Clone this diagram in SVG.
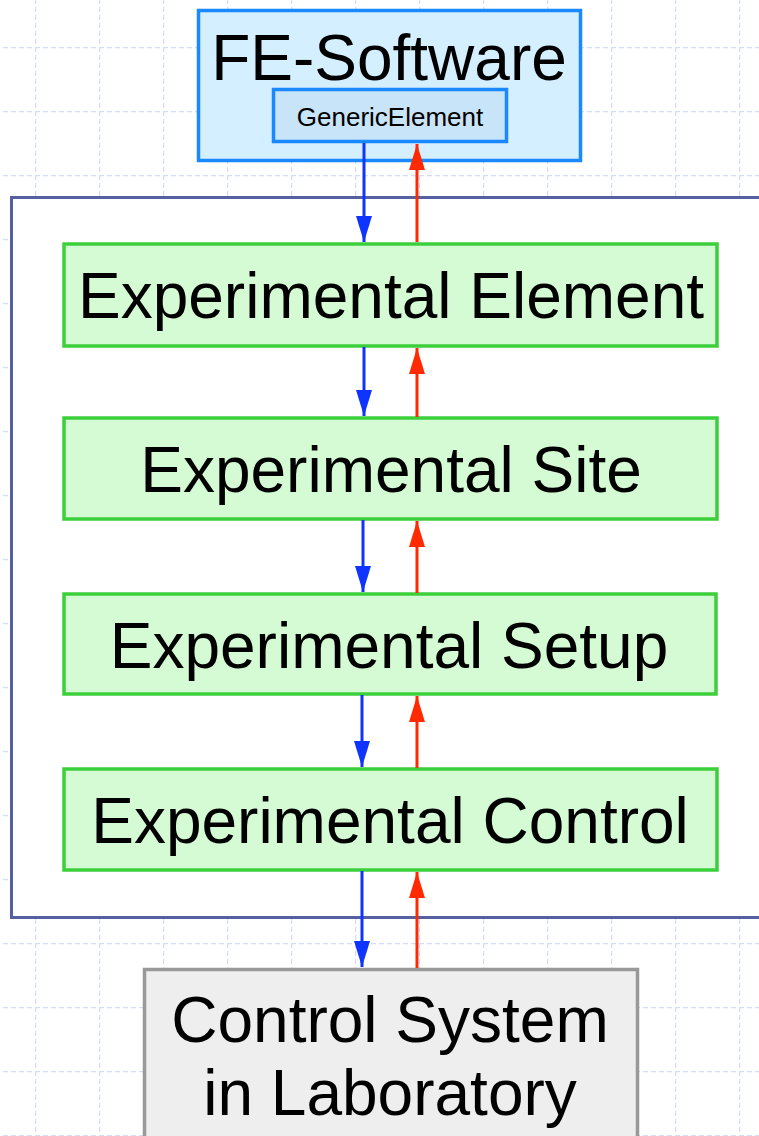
<svg xmlns="http://www.w3.org/2000/svg" width="759" height="1136" viewBox="0 0 759 1136">
<style>
.lbl{font-family:"Liberation Sans",Arial,sans-serif;fill:#000;text-anchor:middle}
.big{font-size:64px}
.green{fill:#d4fbd4;stroke:#3ccf3c;stroke-width:3.5}
.blue{stroke:#1034ff;stroke-width:3;fill:none}
.red{stroke:#ff2a00;stroke-width:3;fill:none}
</style>
<defs>
<pattern id="grid" patternUnits="userSpaceOnUse" x="35" y="47" width="64" height="64">
<path d="M0.5 0V64M0 0.5H64" stroke="#d3dbfb" stroke-width="1.5" stroke-dasharray="5 3" fill="none"/>
</pattern>
<marker id="ab" markerUnits="userSpaceOnUse" markerWidth="28" markerHeight="16" refX="26" refY="8" orient="auto" viewBox="0 0 28 16">
<path d="M0 0L26 8L0 16Z" fill="#1034ff"/>
</marker>
<marker id="ar" markerUnits="userSpaceOnUse" markerWidth="28" markerHeight="16" refX="26" refY="8" orient="auto" viewBox="0 0 28 16">
<path d="M0 0L26 8L0 16Z" fill="#ff2a00"/>
</marker>
</defs>
<rect width="759" height="1136" fill="#fff"/>
<rect width="759" height="1136" fill="url(#grid)"/>
<g id="frame">
<rect x="11.5" y="197.5" width="760" height="720" fill="#fff" stroke="#5560a0" stroke-width="3"/>
</g>
<g id="fe-software">
<rect x="198.5" y="10.5" width="382" height="150" fill="#d4efff" stroke="#1a88ff" stroke-width="3.5"/>
<text class="lbl big" x="389" y="80">FE-Software</text>
</g>
<g id="generic-element">
<rect x="273.5" y="89.5" width="233" height="52" fill="#c8e4f8" stroke="#1a88ff" stroke-width="3.5"/>
<text class="lbl" x="390" y="126" font-size="26">GenericElement</text>
</g>
<g id="exp-element">
<rect class="green" x="64" y="244" width="653" height="102"/>
<text class="lbl big" x="391" y="318">Experimental Element</text>
</g>
<g id="exp-site">
<rect class="green" x="64" y="418" width="653" height="101"/>
<text class="lbl big" x="391" y="492">Experimental Site</text>
</g>
<g id="exp-setup">
<rect class="green" x="64" y="594" width="652" height="100"/>
<text class="lbl big" x="389" y="668">Experimental Setup</text>
</g>
<g id="exp-control">
<rect class="green" x="64" y="769" width="653" height="101"/>
<text class="lbl big" x="390" y="843">Experimental Control</text>
</g>
<g id="control-system">
<rect x="144.5" y="969.5" width="493" height="180" fill="#eeeeee" stroke="#999" stroke-width="3.5"/>
<text class="lbl big" x="390" y="1042">Control System</text>
<text class="lbl big" x="390" y="1115">in Laboratory</text>
</g>
<g id="connectors">
<path class="blue" d="M364 143V242" marker-end="url(#ab)"/>
<path class="red" d="M417 242V144" marker-end="url(#ar)"/>
<path class="blue" d="M364 347V416" marker-end="url(#ab)"/>
<path class="red" d="M417 417V348" marker-end="url(#ar)"/>
<path class="blue" d="M363 520V592" marker-end="url(#ab)"/>
<path class="red" d="M417 593V521" marker-end="url(#ar)"/>
<path class="blue" d="M362 695V767" marker-end="url(#ab)"/>
<path class="red" d="M417 768V696" marker-end="url(#ar)"/>
<path class="blue" d="M362 871V967" marker-end="url(#ab)"/>
<path class="red" d="M417 968V872" marker-end="url(#ar)"/>
</g>
</svg>
